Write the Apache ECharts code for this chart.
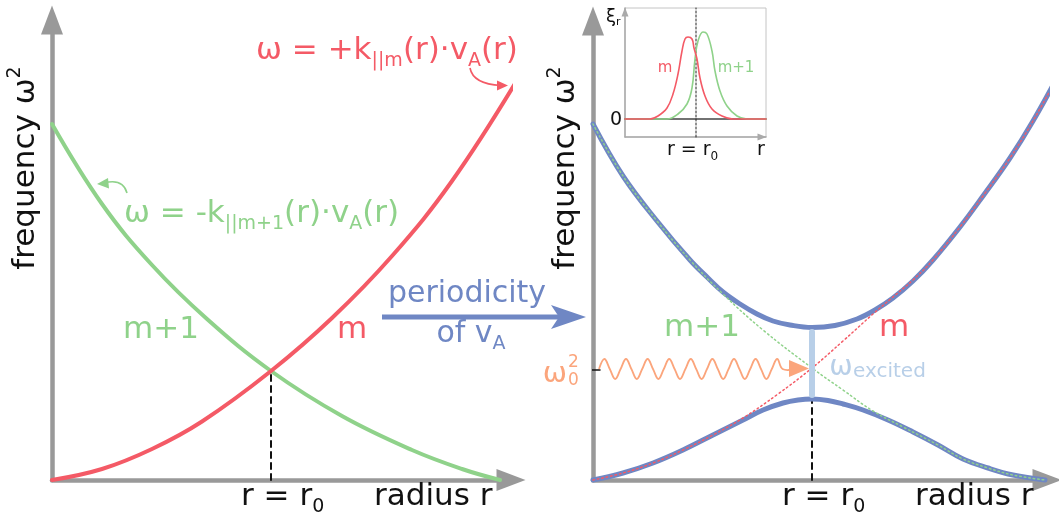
<!DOCTYPE html>
<html><head><meta charset="utf-8">
<script src="https://cdn.jsdelivr.net/npm/echarts@6/dist/echarts.min.js"></script>
<style>html,body{margin:0;padding:0;background:#fff}#c{width:1059px;height:518px}</style>
</head><body><div id="c"></div>
<script>
// ---------- data (arbitrary units) ----------
// left panel: uncoupled branches  [r, omega^2]
const leftM  = [[0,0],[5,1.1],[10,3.1],[15,5.85],[21.9,10.9],[28,16.2],[34,22.4],[40,29.9],[46.7,40.3]];
const leftM1 = [[0,35.6],[5,27.6],[10,21.5],[15.5,16.1],[21.9,10.9],[29,6.4],[36,3.0],[41,1.1],[44.8,0]];
const leftR0 = 21.9, leftCross = 10.9;
// right panel: coupled branches
const upperBranch = [[0,35.6],[3,30.4],[6.4,25.9],[9.7,22.0],[11.5,20.2],[13,18.8],[14.7,17.6],[16.4,16.6],[18,15.9],[19.7,15.5],[21.9,15.25],[24.2,15.45],[26.4,16.1],[28.2,17.0],[30,18.2],[32,19.9],[34,22.0],[36.7,25.3],[39,28.4],[41.7,32.2],[44,35.9],[46.6,40.6]];
const lowerBranch = [[0,0],[3,0.7],[6,1.7],[9,3.0],[12,4.5],[15,6.0],[17,7.0],[19,7.7],[20.5,8.0],[21.9,8.1],[23.5,7.95],[25,7.6],[27,7.0],[29.5,6.0],[32,4.8],[34.5,3.5],[37,2.1],[39.5,1.2],[42,0.5],[45.2,0]];
const rightM  = [[0,0],[3,0.7],[6,1.7],[9,3.0],[12,4.5],[15,6.2],[18.5,8.6],[21.9,11.2],[25,13.9],[28,16.6],[30,18.3],[32,20.0],[34,22.0],[36.7,25.3],[39,28.4],[41.7,32.2],[44,35.9],[46.6,40.6]];
const rightM1 = [[0,35.6],[3,30.4],[6.4,25.9],[9.7,22.0],[13,18.6],[17,15.0],[21.9,11.2],[25,9.0],[28,6.9],[31,5.3],[34.5,3.5],[37,2.1],[39.5,1.2],[42,0.5],[45.2,0]];
const rightR0 = 21.9, gapTop = 15.2, barTop = 14.8, barBottom = 8.5, omega0 = 11.0;
// inset: eigenfunctions xi_r(r)
const insetM  = [[0,0],[2.5,0],[3.3,0.3],[4.2,1.1],[4.8,2.5],[5.3,4.5],[5.7,6.8],[6,8],[6.3,8.2],[6.7,8],[6.9,7.1],[7.2,6],[7.5,4.1],[8,2.3],[8.7,1],[9.7,0.3],[10.8,0],[14.1,0]];
const insetM1 = [[0,0],[4.2,0],[5.3,0.5],[6.2,1.5],[6.7,3.1],[7,6],[7.3,7.8],[7.8,8.7],[8.2,8.5],[8.7,6.8],[9,4.8],[9.5,2.8],[10.2,1.3],[11.2,0.3],[12.2,0],[14.1,0]];
const insetR0 = 7.1;

// ---------- styles ----------
const RED = '#f45a66', GREEN = '#8fd28a', BLUE = '#6f87c4', LBLUE = '#b8cfe8', ORANGE = '#fba57c', GRAY = '#999999';
const FF = '"DejaVu Sans", Verdana, sans-serif';

const noAxis = {axisLabel:{show:false}, axisTick:{show:false}, splitLine:{show:false}};
function mainAxis(max){
  return Object.assign({type:'value', min:0, max:max,
    axisLine:{show:true, onZero:false, symbol:['none','triangle'], symbolSize:[22,29], lineStyle:{color:GRAY, width:4.5}}}, noAxis);
}
function insetAxis(min,max){
  return Object.assign({type:'value', min:min, max:max,
    axisLine:{show:true, onZero:false, symbol:['none','triangle'], symbolSize:[7,9], symbolOffset:[0,-4], lineStyle:{color:'#aaaaaa', width:1.5}}}, noAxis);
}
function line(data, xi, color, width, type, z){
  return {type:'line', data:data, xAxisIndex:xi, yAxisIndex:xi, smooth:0.4, showSymbol:false, symbol:'none', clip:false,
    lineStyle:{color:color, width:width, type:type||'solid', cap:'round'}, z:z||2, silent:true};
}
function straight(data, xi, color, width, type, z){
  const s = line(data, xi, color, width, type, z); s.smooth = false; return s;
}

const chart = echarts.init(document.getElementById('c'), null, {renderer:'canvas'});

function txt(x, y, text, o){
  o = o || {};
  const fs = o.fs || 31;
  return {type:'text', x:x, y:y, rotation:o.rot||0, z:50, silent:true,
    style:{text:text, fill:o.fill||'#111', fontSize:fs, fontFamily:FF, fontWeight:o.fw||'normal',
      align:o.align||'left', verticalAlign:'middle', lineHeight:o.lh||Math.round(fs*1.3),
      rich:{
        s:{fontSize:Math.round(fs*0.62), lineHeight:Math.round(fs*0.62), verticalAlign:'bottom', fill:o.fill||'#111', fontFamily:FF},
        p:{fontSize:Math.round(fs*0.62), lineHeight:Math.round(fs*0.62), verticalAlign:'top', fill:o.fill||'#111', fontFamily:FF}
      }}};
}

// decorative wavy excitation arrow (quarter-period points)
const wavePts = [];
for (let i=0;i<=34;i++){
  const k = i % 4;
  wavePts.push([599 + i*5.4, 369 + (k===1?-10:(k===3?10:0))]);
}
wavePts.push([795,369]);

const option = {
  animation:false,
  backgroundColor:'#ffffff',
  grid:[
    {left:52, top:20, width:459, height:460},
    {left:593, top:21, width:454, height:459},
    {left:625, top:8, width:141, height:129, show:true, borderColor:'#c4c4c4', borderWidth:1, backgroundColor:'#fff', z:5}
  ],
  xAxis:[
    Object.assign(mainAxis(45.9), {gridIndex:0}),
    Object.assign(mainAxis(45.4), {gridIndex:1}),
    Object.assign(insetAxis(0,14.1), {gridIndex:2, z:6})
  ],
  yAxis:[
    Object.assign(mainAxis(46), {gridIndex:0}),
    Object.assign(mainAxis(45.9), {gridIndex:1}),
    Object.assign(insetAxis(-1.8,11.1), {gridIndex:2, z:6})
  ],
  series:[
    // left
    straight([[leftR0,0],[leftR0,leftCross]], 0, '#111', 2, [6,5], 1),
    line(leftM1, 0, GREEN, 4),
    line(leftM, 0, RED, 4),
    // right
    straight([[rightR0,0],[rightR0,gapTop]], 1, '#111', 2, [6,5], 1),
    straight([[-0.6,omega0],[0.7,omega0]], 1, '#111', 1.5, 'solid', 1),
    line(upperBranch, 1, BLUE, 5, 'solid', 2),
    line(lowerBranch, 1, BLUE, 5, 'solid', 2),
    line(rightM1, 1, GREEN, 1.5, [1.5,3], 3),
    line(rightM, 1, RED, 1.5, [1.5,3], 3),
    straight([[rightR0,barBottom],[rightR0,barTop]], 1, LBLUE, 6, 'solid', 4),
    // inset
    straight([[0,0],[14.1,0]], 2, '#444', 1.5, 'solid', 6),
    straight([[insetR0,-1.8],[insetR0,11.1]], 2, '#222', 1, [2,2], 7),
    line(insetM1, 2, GREEN, 1.6, 'solid', 8),
    line(insetM, 2, RED, 1.6, 'solid', 8)
  ],
  graphic:[
    // axis titles
    txt(26, 168, 'frequency ω{p|2}', {align:'center', rot:Math.PI/2, lh:40}),
    txt(566, 168, 'frequency ω{p|2}', {align:'center', rot:Math.PI/2, lh:40}),
    txt(241, 497, 'r = r{s|0}', {lh:40}),
    txt(374, 497, 'radius r'),
    txt(782, 497, 'r = r{s|0}', {lh:40}),
    txt(915, 497, 'radius r'),
    // equations
    txt(256, 51, 'ω = +k{s|||m}(r)·v{s|A}(r)', {fill:RED, lh:40}),
    txt(124, 214, 'ω = -k{s|||m+1}(r)·v{s|A}(r)', {fill:GREEN, lh:40}),
    {type:'bezierCurve', z:50, silent:true, shape:{x1:470, y1:68, cpx1:473, cpy1:84, x2:501, y2:85.5}, style:{stroke:RED, lineWidth:1.6, fill:null}},
    {type:'polygon', z:50, silent:true, shape:{points:[[497,80.5],[508,85.5],[497,90.5]]}, style:{fill:RED}},
    {type:'bezierCurve', z:50, silent:true, shape:{x1:127, y1:193, cpx1:123, cpy1:178, x2:104, y2:183}, style:{stroke:GREEN, lineWidth:1.6, fill:null}},
    {type:'polygon', z:50, silent:true, shape:{points:[[108,178],[97,184],[109,188.5]]}, style:{fill:GREEN}},
    // branch labels
    txt(161, 330, 'm+1', {fill:GREEN, align:'center'}),
    txt(352, 330, 'm', {fill:RED, align:'center'}),
    txt(702, 328, 'm+1', {fill:GREEN, align:'center'}),
    txt(894, 328, 'm', {fill:RED, align:'center'}),
    // periodicity arrow
    txt(467, 294, 'periodicity', {fill:BLUE, align:'center', fs:30}),
    txt(471, 334, 'of v{s|A}', {fill:BLUE, align:'center', lh:40, fs:30}),
    {type:'line', z:50, silent:true, shape:{x1:382, y1:317, x2:562, y2:317}, style:{stroke:BLUE, lineWidth:5}},
    {type:'polygon', z:50, silent:true, shape:{points:[[551,305],[586,317],[551,329],[559,317]]}, style:{fill:BLUE}},
    // excitation
    txt(555, 374, 'ω', {fill:ORANGE, align:'center', fs:29}),
    txt(568, 363, '2', {fill:ORANGE, fs:17}),
    txt(568, 381, '0', {fill:ORANGE, fs:17}),
    {type:'polyline', z:50, silent:true, shape:{points:wavePts, smooth:0.4}, style:{stroke:ORANGE, lineWidth:1.8, fill:null}},
    {type:'polygon', z:50, silent:true, shape:{points:[[789,360],[809,368.5],[789,377]]}, style:{fill:ORANGE}},
    txt(841, 368, 'ω', {fill:LBLUE, align:'center', fs:28}),
    txt(853, 372, 'excited', {fill:LBLUE, fs:20}),
    // inset labels
    txt(606, 17, 'ξ{s|r}', {fs:18, lh:22}),
    txt(616, 120, '0', {fs:19, align:'center'}),
    txt(665, 68, 'm', {fill:RED, fs:15, align:'center'}),
    txt(736, 68, 'm+1', {fill:GREEN, fs:15, align:'center'}),
    txt(667, 150, 'r = r{s|0}', {fs:19, lh:26}),
    txt(761, 150, 'r', {fs:19, align:'center'})
  ]
};
chart.setOption(option);
</script>
</body></html>
